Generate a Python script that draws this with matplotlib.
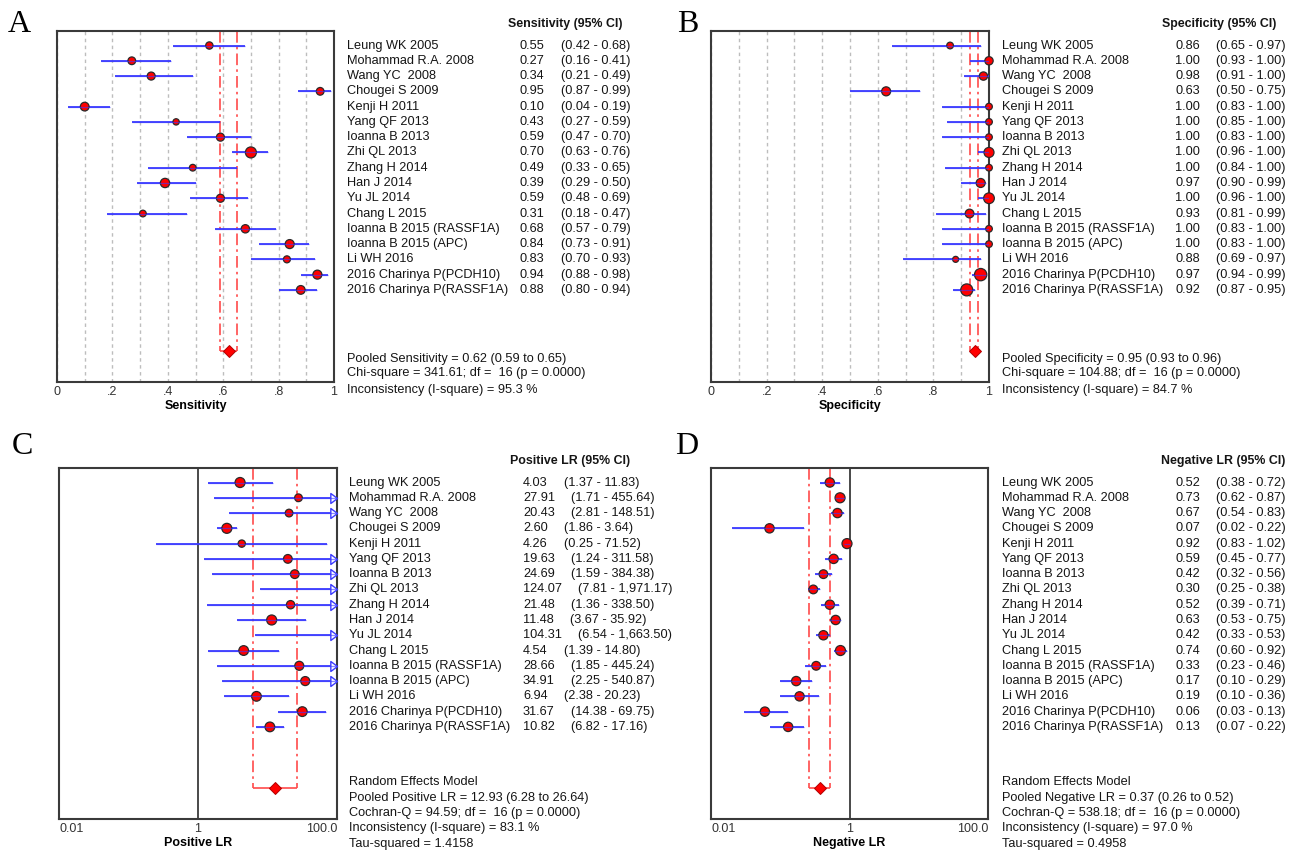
"""
Forest plots (sensitivity, specificity, positive / negative LR) in a 2x2 grid.
"""
import matplotlib
matplotlib.use("Agg")
import matplotlib.pyplot as plt
import matplotlib.transforms as mtransforms
from matplotlib.path import Path
import numpy as np

# ── Style ──────────────────────────────────────────────────────────────────────
plt.rcParams.update({
    "font.family": ["Liberation Sans", "DejaVu Sans"],
    "font.size": 9.2,
    "text.color": "#151515",
})

W, H = 1296, 850
BLUE = "#3b3bff"
RED = "#ff0000"
RED_LINE = "#ff4a4a"
FRAME = "#3a3a3a"

# ── Data ───────────────────────────────────────────────────────────────────────
studies = [
    "Leung WK 2005", "Mohammad R.A. 2008", "Wang YC  2008", "Chougei S 2009",
    "Kenji H 2011", "Yang QF 2013", "Ioanna B 2013", "Zhi QL 2013",
    "Zhang H 2014", "Han J 2014", "Yu JL 2014", "Chang L 2015",
    "Ioanna B 2015 (RASSF1A)", "Ioanna B 2015 (APC)", "Li WH 2016",
    "2016 Charinya P(PCDH10)", "2016 Charinya P(RASSF1A)",
]

sens    = [0.55, 0.27, 0.34, 0.95, 0.10, 0.43, 0.59, 0.70, 0.49, 0.39, 0.59, 0.31, 0.68, 0.84, 0.83, 0.94, 0.88]
sens_lo = [0.42, 0.16, 0.21, 0.87, 0.04, 0.27, 0.47, 0.63, 0.33, 0.29, 0.48, 0.18, 0.57, 0.73, 0.70, 0.88, 0.80]
sens_hi = [0.68, 0.41, 0.49, 0.99, 0.19, 0.59, 0.70, 0.76, 0.65, 0.50, 0.69, 0.47, 0.79, 0.91, 0.93, 0.98, 0.94]

spec    = [0.86, 1.00, 0.98, 0.63, 1.00, 1.00, 1.00, 1.00, 1.00, 0.97, 1.00, 0.93, 1.00, 1.00, 0.88, 0.97, 0.92]
spec_lo = [0.65, 0.93, 0.91, 0.50, 0.83, 0.85, 0.83, 0.96, 0.84, 0.90, 0.96, 0.81, 0.83, 0.83, 0.69, 0.94, 0.87]
spec_hi = [0.97, 1.00, 1.00, 0.75, 1.00, 1.00, 1.00, 1.00, 1.00, 0.99, 1.00, 0.99, 1.00, 1.00, 0.97, 0.99, 0.95]

plr    = [4.03, 27.91, 20.43, 2.60, 4.26, 19.63, 24.69, 124.07, 21.48, 11.48, 104.31, 4.54, 28.66, 34.91, 6.94, 31.67, 10.82]
plr_lo = [1.37, 1.71, 2.81, 1.86, 0.25, 1.24, 1.59, 7.81, 1.36, 3.67, 6.54, 1.39, 1.85, 2.25, 2.38, 14.38, 6.82]
plr_hi = [11.83, 455.64, 148.51, 3.64, 71.52, 311.58, 384.38, 1971.17, 338.50, 35.92, 1663.50, 14.80, 445.24, 540.87, 20.23, 69.75, 17.16]

nlr    = [0.52, 0.73, 0.67, 0.07, 0.92, 0.59, 0.42, 0.30, 0.52, 0.63, 0.42, 0.74, 0.33, 0.17, 0.19, 0.06, 0.13]
nlr_lo = [0.38, 0.62, 0.54, 0.02, 0.83, 0.45, 0.32, 0.25, 0.39, 0.53, 0.33, 0.60, 0.23, 0.10, 0.10, 0.03, 0.07]
nlr_hi = [0.72, 0.87, 0.83, 0.22, 1.02, 0.77, 0.56, 0.38, 0.71, 0.75, 0.53, 0.92, 0.46, 0.29, 0.36, 0.13, 0.22]

# study weights, read as marker diameters (px)
w_sens = [7.3, 7.7, 8.0, 7.7, 8.7, 6.3, 8.0, 11.0, 6.7, 9.3, 8.0, 6.7, 8.3, 9.0, 7.0, 9.0, 8.7]
w_spec = [6.7, 8.3, 8.3, 9.0, 6.7, 6.7, 6.7, 10.0, 6.7, 9.0, 10.7, 8.7, 6.7, 6.7, 6.0, 12.3, 12.0]
w_plr  = [10.0, 7.7, 7.7, 10.0, 7.3, 8.7, 8.7, 8.3, 8.3, 10.0, 8.7, 9.7, 9.0, 9.0, 9.7, 9.7, 9.7]
w_nlr  = [9.3, 10.0, 9.3, 9.3, 10.0, 9.3, 8.7, 8.7, 9.3, 9.3, 9.3, 10.0, 8.7, 9.3, 9.3, 9.3, 9.3]

# pooled estimate (est, lo, hi)
pooled_sens = (0.62, 0.59, 0.65)
pooled_spec = (0.95, 0.93, 0.96)
pooled_plr  = (12.93, 6.28, 26.64)
pooled_nlr  = (0.37, 0.26, 0.52)

lin_ticks = [0, 0.2, 0.4, 0.6, 0.8, 1.0]
lin_tick_labels = ["0", ".2", ".4", ".6", ".8", "1"]
log_ticks = [0.01, 1, 100]
log_tick_labels = ["0.01", "1", "100.0"]

PANELS = [
    dict(letter="A", letter_xy=(8, 32), rect=(57, 31, 277, 351), log=False,
         est=sens, lo=sens_lo, hi=sens_hi, w=w_sens, pooled=pooled_sens,
         xlabel="Sensitivity", header="Sensitivity (95% CI)", cols=(347, 520, 508),
         footer=["Pooled Sensitivity = %.2f (%.2f to %.2f)" % pooled_sens,
                 "Chi-square = 341.61; df =  16 (p = 0.0000)",
                 "Inconsistency (I-square) = 95.3 %"],
         footer_rows=[21.5, 22.45, 23.55]),
    dict(letter="B", letter_xy=(677, 32), rect=(711, 31, 278, 351), log=False,
         est=spec, lo=spec_lo, hi=spec_hi, w=w_spec, pooled=pooled_spec,
         xlabel="Specificity", header="Specificity (95% CI)", cols=(1002, 1175, 1162),
         footer=["Pooled Specificity = %.2f (%.2f to %.2f)" % pooled_spec,
                 "Chi-square = 104.88; df =  16 (p = 0.0000)",
                 "Inconsistency (I-square) = 84.7 %"],
         footer_rows=[21.5, 22.45, 23.55]),
    dict(letter="C", letter_xy=(12, 454), rect=(59, 468, 278, 351), log=True,
         est=plr, lo=plr_lo, hi=plr_hi, w=w_plr, pooled=pooled_plr,
         xlabel="Positive LR", header="Positive LR (95% CI)", cols=(349, 523, 510),
         footer=["Random Effects Model",
                 "Pooled Positive LR = %.2f (%.2f to %.2f)" % pooled_plr,
                 "Cochran-Q = 94.59; df =  16 (p = 0.0000)",
                 "Inconsistency (I-square) = 83.1 %",
                 "Tau-squared = 1.4158"],
         footer_rows=[20.6, 21.65, 22.65, 23.65, 24.65]),
    dict(letter="D", letter_xy=(675, 454), rect=(711, 468, 277, 351), log=True,
         est=nlr, lo=nlr_lo, hi=nlr_hi, w=w_nlr, pooled=pooled_nlr,
         xlabel="Negative LR", header="Negative LR (95% CI)", cols=(1002, 1175, 1161),
         footer=["Random Effects Model",
                 "Pooled Negative LR = %.2f (%.2f to %.2f)" % pooled_nlr,
                 "Cochran-Q = 538.18; df =  16 (p = 0.0000)",
                 "Inconsistency (I-square) = 97.0 %",
                 "Tau-squared = 0.4958"],
         footer_rows=[20.6, 21.65, 22.65, 23.65, 24.65]),
]

# open arrow head, tip at the marker origin
ARROW = Path([(-1, -0.75), (0, 0), (-1, 0.75), (-1, -0.75)],
             [Path.MOVETO, Path.LINETO, Path.LINETO, Path.CLOSEPOLY])

Y_TOP, Y_BOT = 0.05, 23.03


def fmt(v):
    return f"{v:,.2f}"


def draw_panel(fig, p):
    l, t, w, h = p["rect"]
    ax = fig.add_axes([l / W, 1 - (t + h) / H, w / W, h / H])
    n = len(studies)
    rows = np.arange(1, n + 1)
    pooled_row = n + 4
    est, lo, hi = np.array(p["est"]), np.array(p["lo"]), np.array(p["hi"])

    if p["log"]:
        ax.set_xscale("log")
        ax.set_xlim(0.01, 100)
        ax.set_xticks(log_ticks)
        ax.set_xticklabels(log_tick_labels)
        ax.xaxis.set_minor_locator(matplotlib.ticker.NullLocator())
        ax.axvline(1, color=FRAME, lw=1.3, zorder=1)
    else:
        ax.set_xlim(0, 1)
        ax.set_xticks(lin_ticks)
        ax.set_xticklabels(lin_tick_labels)
        ax.set_xticks(np.arange(1, 10, 2) / 10, minor=True)
        ax.grid(axis="x", which="both", color="#bdbdbd", lw=1.0,
                linestyle=(0, (2.5, 2.5)), zorder=0)
    ax.set_ylim(Y_BOT, Y_TOP)
    ax.set_yticks([])
    ax.tick_params(axis="x", which="both", length=0, pad=3, labelsize=9, labelcolor="#333333")
    if p["log"]:
        labels = ax.get_xticklabels()
        labels[0].set_ha("left")
        labels[-1].set_ha("right")
    ax.set_xlabel(p["xlabel"], fontsize=9, fontweight="bold", labelpad=1)
    for s in ax.spines.values():
        s.set_color(FRAME)
        s.set_linewidth(1.5)

    # pooled CI guide lines + diamond
    pe, plo, phi = p["pooled"]
    style = dict(color=RED_LINE, lw=1.2, zorder=2)
    ax.vlines([plo, phi], Y_TOP, pooled_row, linestyles=[(0, (7, 2.5, 1.5, 2.5))], **style)
    ax.hlines(pooled_row, plo, phi, **style)
    ax.plot(pe, pooled_row, marker="D", ms=6.3, color=RED, mec="#b00000", mew=0.7,
            zorder=5, clip_on=False)

    # study CIs
    xmax = ax.get_xlim()[1]
    ax.hlines(rows, lo, np.minimum(hi, xmax), color=BLUE, lw=1.3, zorder=3)
    over = hi > xmax
    if over.any():
        ax.plot(np.full(over.sum(), xmax), rows[over], linestyle="none", marker=ARROW,
                ms=9.6, mfc="white", mec=BLUE, mew=1.0, zorder=4, clip_on=False)

    # study point estimates (off-scale estimates are not drawn)
    inside = est <= xmax
    sizes = (np.array(p["w"]) * 0.72) ** 2
    ax.scatter(est[inside], rows[inside], s=sizes[inside], c=RED, edgecolors="#2a2a2a",
               linewidths=0.9, zorder=4, clip_on=False)
    # CI line shows through the marker as in the original
    ax.hlines(rows, lo, np.minimum(hi, xmax), color=BLUE, lw=0.9, alpha=0.6, zorder=4.5)

    # table text
    x_name, x_val, x_head = (c / W for c in p["cols"])
    tr = mtransforms.blended_transform_factory(fig.transFigure, ax.transData)
    ax.text(x_head, -0.4, p["header"], transform=tr, fontsize=8.9, fontweight="bold",
            va="center", ha="left", clip_on=False)
    for r, name, e, a, b in zip(rows, studies, est, lo, hi):
        ax.text(x_name, r, name, transform=tr, va="center", ha="left")
        tv = ax.text(x_val, r, fmt(e), transform=tr, va="center", ha="left")
        ax.annotate(f"({fmt(a)} - {fmt(b)})", xy=(1, 0.5), xycoords=tv,
                    xytext=(11.8, 0), textcoords="offset points", va="center", ha="left")
    for r, line in zip(p["footer_rows"], p["footer"]):
        ax.text(x_name, r, line, transform=tr, va="center", ha="left")

    lx, ly = p["letter_xy"]
    fig.text(lx / W, 1 - ly / H, p["letter"], fontsize=23, family="Liberation Serif",
             color="black", ha="left", va="baseline")
    return ax


fig = plt.figure(figsize=(W / 100, H / 100), dpi=100)
for p in PANELS:
    draw_panel(fig, p)

fig.savefig("out.png", dpi=100)
